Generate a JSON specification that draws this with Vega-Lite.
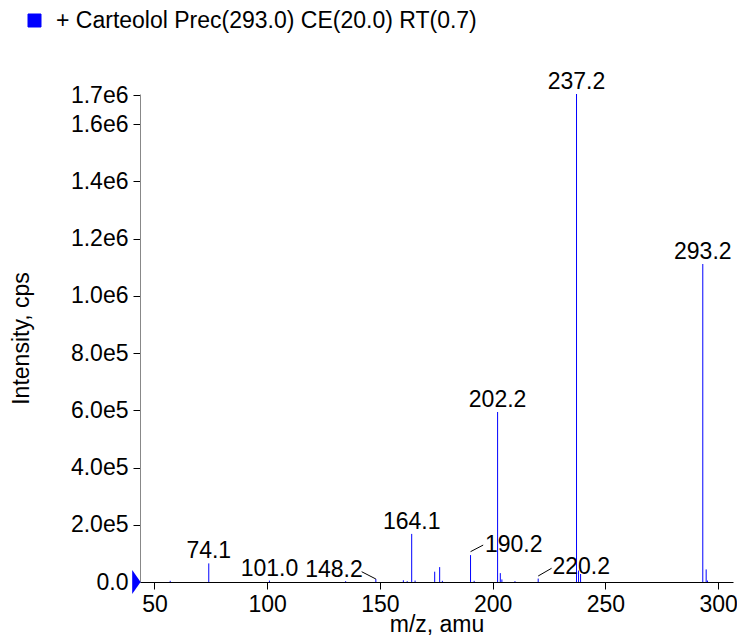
{
  "$schema": "https://vega.github.io/schema/vega-lite/v6.json",
  "autosize": {"type": "none"},
  "padding": {"left": 140, "top": 94, "right": 4, "bottom": 58},
  "width": 593,
  "height": 488,
  "background": "white",
  "config": {
    "font": "Liberation Sans",
    "view": {"stroke": null},
    "axis": {"grid": false, "labelFont": "Liberation Sans", "titleFont": "Liberation Sans", "labelFontSize": 23, "titleFontSize": 23, "titleFontWeight": "normal", "labelColor": "black", "titleColor": "black", "tickColor": "black", "labelOverlap": false, "labelFlush": false},
    "legend": {"labelFont": "Liberation Sans", "labelFontSize": 23, "labelColor": "black", "labelLimit": 0}
  },
  "datasets": {
    "peaks": [
      {"mz": 57.0, "i": 4000},
      {"mz": 74.1, "i": 65000, "label": "74.1"},
      {"mz": 101.0, "i": 5000, "label": "101.0"},
      {"mz": 134.8, "i": 3000},
      {"mz": 148.2, "i": 10500},
      {"mz": 160.4, "i": 6000},
      {"mz": 162.1, "i": 3000},
      {"mz": 164.1, "i": 168000, "label": "164.1"},
      {"mz": 165.6, "i": 5000},
      {"mz": 174.3, "i": 36000},
      {"mz": 176.5, "i": 52000},
      {"mz": 177.7, "i": 4000},
      {"mz": 190.2, "i": 94000},
      {"mz": 191.8, "i": 4000},
      {"mz": 202.2, "i": 594000, "label": "202.2"},
      {"mz": 203.4, "i": 31000},
      {"mz": 204.1, "i": 9000},
      {"mz": 209.9, "i": 3000},
      {"mz": 220.2, "i": 12000},
      {"mz": 237.2, "i": 1705000, "label": "237.2"},
      {"mz": 238.1, "i": 40000},
      {"mz": 239.0, "i": 28000},
      {"mz": 293.2, "i": 1111000, "label": "293.2"},
      {"mz": 294.7, "i": 44000},
      {"mz": 295.3, "i": 5000}
    ],
    "notes": [
      {"label": "148.2", "mz": 148.2, "i": 10500, "lx": 141.9, "ly": 36000, "tx": 129.6, "ty": 18500},
      {"label": "190.2", "mz": 190.2, "i": 106000, "lx": 195.8, "ly": 129000, "tx": 209.35, "ty": 106000},
      {"label": "220.2", "mz": 220.2, "i": 21000, "lx": 226.15, "ly": 48000, "tx": 239.3, "ty": 26900}
    ]
  },
  "layer": [
    {
      "data": {"name": "peaks"},
      "mark": {"type": "rule", "strokeWidth": 1},
      "encoding": {
        "x": {"field": "mz", "type": "quantitative", "scale": {"domain": [43.6, 306.6], "nice": false, "zero": false},
          "axis": {"title": "m/z, amu", "values": [50, 100, 150, 200, 250, 300], "format": "d",
            "tickSize": 7, "ticks": true, "tickWidth": 1,
            "domainColor": "black", "labelPadding": 4, "titlePadding": -3, "labelFlush": false, "labelOverlap": false}},
        "y": {"field": "i", "type": "quantitative", "scale": {"domain": [0, 1705000], "nice": false},
          "axis": {"title": "Intensity, cps", "values": [0, 200000, 400000, 600000, 800000, 1000000, 1200000, 1400000, 1600000, 1700000],
            "labelExpr": "datum.value === 0 ? '0.0' : replace(format(datum.value, '.1e'), 'e+', 'e')",
            "tickSize": 7, "ticks": true, "tickWidth": 1,
            "domainColor": "#888888", "labelPadding": 5, "titlePadding": 37, "labelFlush": false, "labelOverlap": false}},
        "y2": {"datum": 0},
        "color": {"datum": "+ Carteolol Prec(293.0) CE(20.0) RT(0.7)", "type": "nominal", "scale": {"range": ["#0000ff"]},
          "legend": {"title": null, "orient": "none", "legendX": -117, "legendY": -85, "symbolType": "square", "symbolSize": 169, "symbolFillColor": "#0000ff", "symbolStrokeColor": "#000060", "symbolStrokeWidth": 1, "labelOffset": 10, "padding": 0, "labelLimit": 0}}
      }
    },
    {
      "data": {"values": [{}]},
      "mark": {"type": "point", "shape": "M-0.65,-1L0.05,0L-0.65,1Z", "filled": true, "color": "#0000ff", "opacity": 1, "size": 576},
      "encoding": {
        "x": {"datum": 43.6, "type": "quantitative"},
        "y": {"datum": 0, "type": "quantitative"}
      }
    },
    {
      "data": {"name": "peaks"},
      "transform": [{"filter": "datum.label != null"}],
      "mark": {"type": "text", "align": "center", "baseline": "alphabetic", "dy": -5, "fontSize": 23, "color": "black"},
      "encoding": {
        "x": {"field": "mz", "type": "quantitative"},
        "y": {"field": "i", "type": "quantitative"},
        "text": {"field": "label"}
      }
    },
    {
      "data": {"name": "notes"},
      "mark": {"type": "rule", "color": "black", "strokeWidth": 1},
      "encoding": {
        "x": {"field": "mz", "type": "quantitative"},
        "y": {"field": "i", "type": "quantitative"},
        "x2": {"field": "lx"},
        "y2": {"field": "ly"}
      }
    },
    {
      "data": {"name": "notes"},
      "mark": {"type": "text", "align": "center", "baseline": "alphabetic", "fontSize": 23, "color": "black"},
      "encoding": {
        "x": {"field": "tx", "type": "quantitative"},
        "y": {"field": "ty", "type": "quantitative"},
        "text": {"field": "label"}
      }
    }
  ]
}
